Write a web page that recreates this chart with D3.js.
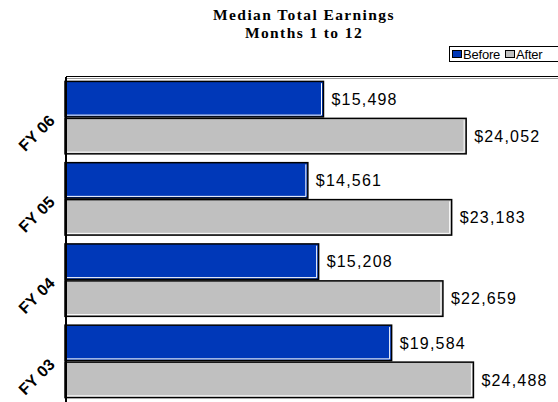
<!DOCTYPE html>
<html>
<head>
<meta charset="utf-8">
<script src="https://cdn.jsdelivr.net/npm/d3@7"></script>
<style>
  html, body { margin: 0; padding: 0; background: #fff; }
  svg { display: block; }
</style>
</head>
<body>
<script>
const categories = ["FY 06", "FY 05", "FY 04", "FY 03"];
const seriesNames = ["Before", "After"];
const beforeValues = [15498, 14561, 15208, 19584];
const afterValues = [24052, 23183, 22659, 24488];
const titleLines = ["Median Total Earnings", "Months 1 to 12"];
const colors = { Before: "#0038B8", After: "#C0C0C0" };

const W = 558, H = 402;
const svg = d3.select("body").append("svg").attr("width", W).attr("height", H);

const data = categories.map((c, i) => ({ cat: c, Before: beforeValues[i], After: afterValues[i] }));

const plotLeft = 66, plotTop = 77, plotBottom = 402;

const y0 = d3.scaleBand().domain(categories).range([plotTop, plotBottom]).paddingInner(0.09).paddingOuter(0.045);
const y1 = d3.scaleBand().domain(seriesNames).range([0, y0.bandwidth()]).padding(0);
const x = d3.scaleLinear().domain([0, 28000]).range([65, 532]);

// title
const title = svg.append("g");
titleLines.forEach((t, i) => {
  title.append("text")
    .attr("x", 304).attr("y", 20 + i * 18)
    .attr("text-anchor", "middle")
    .attr("font-family", "'Liberation Serif', 'Times New Roman', serif")
    .attr("font-weight", "bold")
    .attr("font-size", 15.5)
    .attr("letter-spacing", 1.4)
    .text(t);
});

// top frame line
svg.append("line").attr("x1", plotLeft).attr("x2", W).attr("y1", 76.5).attr("y2", 76.5)
  .attr("stroke", "#000").attr("stroke-width", 1.2);
svg.append("line").attr("x1", plotLeft).attr("x2", W).attr("y1", 78.5).attr("y2", 78.5)
  .attr("stroke", "#999").attr("stroke-width", 1);

// bars
const groups = svg.append("g").selectAll("g").data(data).join("g")
  .attr("transform", d => `translate(0,${y0(d.cat)})`);

seriesNames.forEach(s => {
  groups.append("rect")
    .attr("x", x(0))
    .attr("y", y1(s) + 0.75)
    .attr("width", d => x(d[s]) - x(0))
    .attr("height", y1.bandwidth() - 1.5)
    .attr("fill", colors[s])
    .attr("stroke", "#000")
    .attr("stroke-width", 1.5);
  // white inner highlight on right and bottom
  groups.append("path")
    .attr("d", d => {
      const xr = x(d[s]) - 2, yt = y1(s) + 2.5, yb = y1(s) + y1.bandwidth() - 2.5;
      return `M${xr},${yt}L${xr},${yb}L${x(0) + 2},${yb}`;
    })
    .attr("fill", "none")
    .attr("stroke", "#fff")
    .attr("stroke-width", 1);
  groups.append("text")
    .attr("x", d => x(d[s]) + 8)
    .attr("y", y1(s) + y1.bandwidth() / 2)
    .attr("dy", "0.36em")
    .attr("font-family", "'Liberation Sans', Arial, sans-serif")
    .attr("font-size", 16)
    .attr("letter-spacing", 1.2)
    .attr("fill", "#000")
    .text(d => "$" + d3.format(",")(d[s]));
});

// left axis line
svg.append("line").attr("x1", plotLeft).attr("x2", plotLeft).attr("y1", plotTop).attr("y2", H)
  .attr("stroke", "#000").attr("stroke-width", 2);

// category labels
svg.append("g").selectAll("text").data(categories).join("text")
  .attr("transform", c => `translate(56,${y0(c) + y0.bandwidth() / 2 + 4}) rotate(-45)`)
  .attr("text-anchor", "end")
  .attr("font-family", "'Liberation Sans', Arial, sans-serif")
  .attr("font-weight", "bold")
  .attr("font-size", 16)
  .attr("letter-spacing", 0.2)
  .attr("fill", "#000")
  .text(c => c);

// legend
const lg = svg.append("g");
lg.append("rect").attr("x", 449.5).attr("y", 46.5).attr("width", 120).attr("height", 15)
  .attr("fill", "#fff").attr("stroke", "#000").attr("stroke-width", 1);
const legendItems = [{ name: "Before", x: 452 }, { name: "After", x: 505 }];
legendItems.forEach(it => {
  lg.append("rect").attr("x", it.x + 0.5).attr("y", 50.5).attr("width", 9).attr("height", 7)
    .attr("fill", colors[it.name]).attr("stroke", "#000").attr("stroke-width", 1);
  lg.append("text").attr("x", it.x + 11).attr("y", 58.5)
    .attr("font-family", "'Liberation Sans', Arial, sans-serif")
    .attr("font-size", 13)
    .attr("letter-spacing", -0.2)
    .text(it.name);
});
</script>
</body>
</html>
